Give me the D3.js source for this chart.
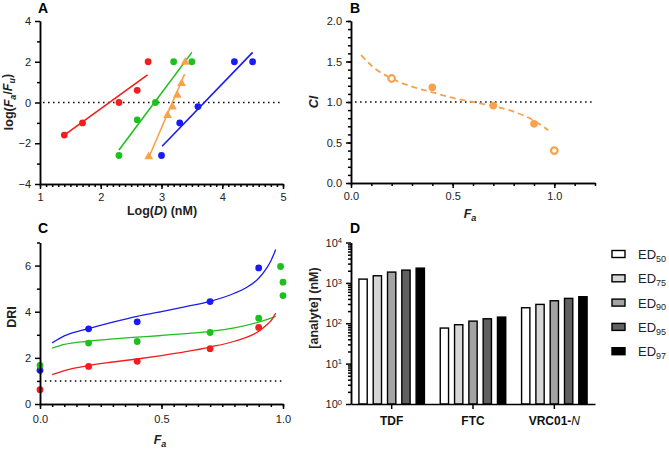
<!DOCTYPE html>
<html lang="en">
<head>
<meta charset="UTF-8">
<title>drug combination panels</title>
<script src="https://cdn.jsdelivr.net/npm/d3@7/dist/d3.min.js"></script>
<style>
body { margin: 0; background: #fff; }
svg text { font-family: "Liberation Sans", Arial, sans-serif; fill: #222; }
.axis path, .axis line { stroke: #000; stroke-width: 1.5; }
.axis text { font-size: 11px; fill: #222; }
</style>
</head>
<body>
<div id="output"></div>
<script>

// ---- panel A : median-effect plot ----
var aRedX = [1.4, 1.7, 2.3, 2.6, 2.78];
var aRedY = [-1.6, -1.0, 0.0, 0.6, 2.0];
var aRedFitX = [1.4, 2.77];
var aRedFitY = [-1.6, 1.36];

var aGreenX = [2.3, 2.6, 2.9, 3.2, 3.5];
var aGreenY = [-2.6, -0.85, 0.0, 2.0, 2.0];
var aGreenFitX = [2.3, 3.5];
var aGreenFitY = [-2.33, 2.46];

var aOrangeX = [2.79, 3.1, 3.18, 3.26, 3.33, 3.39];
var aOrangeY = [-2.66, -0.63, -0.22, 0.36, 0.93, 1.98];
var aOrangeFitX = [2.79, 3.38];
var aOrangeFitY = [-2.7, 1.39];

var aBlueX = [3.0, 3.3, 3.6, 4.2, 4.5];
var aBlueY = [-2.6, -1.0, -0.2, 2.0, 2.0];
var aBlueFitX = [3.01, 4.5];
var aBlueFitY = [-2.15, 2.46];

// ---- panel B : combination index ----
var bFa = [0.2, 0.4, 0.7, 0.9, 1.0];
var bCI = [1.29, 1.18, 0.955, 0.73, 0.40];
var bOpen = [true, false, false, false, true];
var bCurveFa = [0.05, 0.1, 0.2, 0.3, 0.4, 0.5, 0.6, 0.7, 0.8, 0.9, 0.97];
var bCurveCI = [1.58, 1.45, 1.29, 1.19, 1.12, 1.05, 1.0, 0.95, 0.88, 0.77, 0.65];

// ---- panel C : dose reduction index ----
var cFa = [0, 0.2, 0.4, 0.7, 0.9];
var cBlue = [1.46, 3.26, 3.56, 4.44, 5.9];
var cGreen = [1.67, 2.64, 2.71, 3.10, 3.72];
var cRed = [0.62, 1.63, 1.85, 2.40, 3.32];
var cGreenExtraFa = [0.99, 1.0, 1.0];
var cGreenExtra = [5.96, 5.28, 4.70];

var cBlueCurveFa = [0.05, 0.1, 0.2, 0.3, 0.4, 0.5, 0.6, 0.7, 0.8, 0.85, 0.9, 0.93, 0.95, 0.97];
var cBlueCurve = [2.65, 2.95, 3.27, 3.55, 3.8, 4.0, 4.22, 4.45, 4.8, 5.05, 5.45, 5.85, 6.2, 6.7];
var cGreenCurveFa = [0.05, 0.1, 0.2, 0.3, 0.4, 0.5, 0.6, 0.7, 0.8, 0.9, 0.97];
var cGreenCurve = [2.42, 2.58, 2.72, 2.82, 2.9, 2.97, 3.05, 3.15, 3.3, 3.55, 3.8];
var cRedCurveFa = [0.05, 0.1, 0.2, 0.3, 0.4, 0.5, 0.6, 0.7, 0.8, 0.9, 0.93, 0.95, 0.97];
var cRedCurve = [1.27, 1.45, 1.67, 1.82, 1.95, 2.1, 2.27, 2.47, 2.72, 3.15, 3.4, 3.6, 3.94];

// ---- panel D : ED values ----
var drugs = ["TDF", "FTC", "VRC01-N"];
var edLevels = ["50", "75", "90", "95", "97"];
var edTDF = [1240, 1500, 1850, 2070, 2320];
var edFTC = [76, 92, 113, 129, 142];
var edVRC = [242, 293, 361, 413, 454];

var red = "#f21d1d", green = "#1fbf1f", blue = "#1a1af2", orange = "#f8a24b";
var edFills = ["#ffffff", "#d6d6d6", "#a3a3a3", "#606060", "#000000"];

var svg = d3.select("#output").append("svg")
    .attr("width", 669).attr("height", 449);

function zip(xs, ys) {
    return xs.map(function(x, i){ return [x, ys[i]]; });
}

// draws a minor tick axis first, then the major one on top
function drawAxis(g, axisFn, scale, majors, minors, fmt, pad) {
    g.append("g").attr("class", "axis")
        .call(axisFn(scale).tickValues(minors).tickSize(3).tickSizeOuter(0).tickFormat(""));
    var major = axisFn(scale).tickValues(majors).tickSize(5).tickSizeOuter(0).tickPadding(pad || 4);
    if (fmt) major.tickFormat(fmt);
    g.append("g").attr("class", "axis").call(major);
}

function range(a, b, step) {
    var r = [];
    for (var v = a; v <= b + 1e-9; v += step) r.push(+v.toFixed(4));
    return r;
}

function letter(x, y, t) {
    svg.append("text").attr("x", x).attr("y", y).text(t)
        .style("font-size", "14px").style("font-weight", "bold").style("fill", "#000");
}

function dotted(g, x1, x2, y) {
    g.append("line").attr("x1", x1).attr("x2", x2).attr("y1", y).attr("y2", y)
        .attr("stroke", "#000").attr("stroke-width", 1.5).attr("stroke-dasharray", "1.5,3.5");
}

// italic F with subscript
function addFa(t, sub) {
    t.append("tspan").style("font-style", "italic").text("F");
    t.append("tspan").style("font-style", "italic").style("font-size", "0.72em")
        .attr("dy", "0.3em").text(sub);
}

// ================= Panel A =================
(function(){
    var x = d3.scaleLinear().domain([1, 5]).range([40, 283]);
    var y = d3.scaleLinear().domain([-4, 4]).range([184, 21]);
    var g = svg.append("g");

    dotted(g, x(1.05), x(5), y(0));

    var line = d3.line().x(function(d){ return x(d[0]); }).y(function(d){ return y(d[1]); });
    [[aRedFitX, aRedFitY, red], [aGreenFitX, aGreenFitY, green],
     [aOrangeFitX, aOrangeFitY, orange], [aBlueFitX, aBlueFitY, blue]].forEach(function(s){
        g.append("path").datum(zip(s[0], s[1])).attr("d", line)
            .attr("fill", "none").attr("stroke", s[2]).attr("stroke-width", 1.6);
    });

    [[aRedX, aRedY, red], [aGreenX, aGreenY, green], [aBlueX, aBlueY, blue]].forEach(function(s){
        g.selectAll(null).data(zip(s[0], s[1])).enter().append("circle")
            .attr("cx", function(d){ return x(d[0]); })
            .attr("cy", function(d){ return y(d[1]); })
            .attr("r", 3.4).attr("fill", s[2]);
    });
    var tri = d3.symbol().type(d3.symbolTriangle).size(34);
    g.selectAll(null).data(zip(aOrangeX, aOrangeY)).enter().append("path")
        .attr("d", tri)
        .attr("transform", function(d){ return "translate(" + x(d[0]) + "," + y(d[1]) + ")"; })
        .attr("fill", orange);

    drawAxis(g.append("g").attr("transform", "translate(0," + y(-4) + ")"), d3.axisBottom, x,
        [1, 2, 3, 4, 5], range(1, 5, 0.1), d3.format("d"));
    drawAxis(g.append("g").attr("transform", "translate(" + x(1) + ",0)"), d3.axisLeft, y,
        [-4, -2, 0, 2, 4], [-3, -1, 1, 3], d3.format("d"));

    var yt = svg.append("text").attr("transform", "translate(13,102) rotate(-90)")
        .attr("text-anchor", "middle").style("font-size", "12.5px").style("font-weight", "bold");
    yt.append("tspan").text("log(");
    addFa(yt, "a");
    yt.append("tspan").attr("dy", "-0.3em").text("/");
    addFa(yt, "u");
    yt.append("tspan").attr("dy", "-0.3em").text(")");

    var xt = svg.append("text").attr("x", 162).attr("y", 215)
        .attr("text-anchor", "middle").style("font-size", "12.5px").style("font-weight", "bold");
    xt.append("tspan").text("Log(");
    xt.append("tspan").style("font-style", "italic").text("D");
    xt.append("tspan").text(") (nM)");

    letter(38, 13, "A");
})();

// ================= Panel B =================
(function(){
    var x = d3.scaleLinear().domain([0, 1.2]).range([351, 595]);
    var y = d3.scaleLinear().domain([0, 2]).range([183, 21]);
    var g = svg.append("g");

    dotted(g, x(0.02), x(1.2), y(1));

    var line = d3.line().curve(d3.curveMonotoneX)
        .x(function(d){ return x(d[0]); }).y(function(d){ return y(d[1]); });
    g.append("path").datum(zip(bCurveFa, bCurveCI)).attr("d", line)
        .attr("fill", "none").attr("stroke", orange).attr("stroke-width", 1.8)
        .attr("stroke-dasharray", "6,4");

    g.selectAll(null).data(zip(bFa, bCI)).enter().append("circle")
        .attr("cx", function(d){ return x(d[0]); })
        .attr("cy", function(d){ return y(d[1]); })
        .attr("r", function(d, i){ return bOpen[i] ? 3.3 : 3.8; })
        .attr("fill", function(d, i){ return bOpen[i] ? "#fff" : orange; })
        .attr("stroke", orange)
        .attr("stroke-width", function(d, i){ return bOpen[i] ? 2.2 : 0; });

    drawAxis(g.append("g").attr("transform", "translate(0," + y(0) + ")"), d3.axisBottom, x,
        [0, 0.5, 1.0], range(0, 1.2, 0.1), d3.format(".1f"));
    drawAxis(g.append("g").attr("transform", "translate(" + x(0) + ",0)"), d3.axisLeft, y,
        [0, 0.5, 1, 1.5, 2], range(0, 2, 0.1), d3.format(".1f"));

    svg.append("text").attr("transform", "translate(318,102) rotate(-90)")
        .attr("text-anchor", "middle").style("font-size", "12.5px").style("font-weight", "bold")
        .style("font-style", "italic").text("CI");

    var xt = svg.append("text").attr("x", 470).attr("y", 218)
        .attr("text-anchor", "middle").style("font-size", "12.5px").style("font-weight", "bold");
    addFa(xt, "a");

    letter(350, 13, "B");
})();

// ================= Panel C =================
(function(){
    var x = d3.scaleLinear().domain([0, 1]).range([40, 283]);
    var y = d3.scaleLinear().domain([0, 7]).range([404, 242.5]);
    var g = svg.append("g");

    dotted(g, x(0.02), x(1), y(1));

    var line = d3.line().curve(d3.curveMonotoneX)
        .x(function(d){ return x(d[0]); }).y(function(d){ return y(d[1]); });
    [[cBlueCurveFa, cBlueCurve, blue], [cGreenCurveFa, cGreenCurve, green],
     [cRedCurveFa, cRedCurve, red]].forEach(function(s){
        g.append("path").datum(zip(s[0], s[1])).attr("d", line)
            .attr("fill", "none").attr("stroke", s[2]).attr("stroke-width", 1.3);
    });

    [[cFa, cBlue, blue], [cFa, cGreen, green], [cFa, cRed, red],
     [cGreenExtraFa, cGreenExtra, green]].forEach(function(s){
        g.selectAll(null).data(zip(s[0], s[1])).enter().append("circle")
            .attr("cx", function(d){ return x(d[0]); })
            .attr("cy", function(d){ return y(d[1]); })
            .attr("r", 3.4).attr("fill", s[2]);
    });

    drawAxis(g.append("g").attr("transform", "translate(0," + y(0) + ")"), d3.axisBottom, x,
        [0, 0.5, 1.0], range(0, 1, 0.05), d3.format(".1f"), 6);
    drawAxis(g.append("g").attr("transform", "translate(" + x(0) + ",0)"), d3.axisLeft, y,
        [0, 2, 4, 6], [1, 3, 5, 7], d3.format("d"));

    svg.append("text").attr("transform", "translate(16,317) rotate(-90)")
        .attr("text-anchor", "middle").style("font-size", "12.5px").style("font-weight", "bold")
        .text("DRI");

    var xt = svg.append("text").attr("x", 160).attr("y", 444)
        .attr("text-anchor", "middle").style("font-size", "12.5px").style("font-weight", "bold");
    addFa(xt, "a");

    letter(38, 233, "C");
})();

// ================= Panel D =================
(function(){
    var values = [edTDF, edFTC, edVRC];
    var x0 = d3.scaleBand().domain(drugs).range([351, 595]).padding(0);
    var x1 = d3.scaleBand().domain(edLevels).range([-32.75, 32.75]).paddingInner(0.42);
    var y = d3.scaleLog().domain([1, 1e4]).range([404, 242.5]);
    var g = svg.append("g");

    drugs.forEach(function(dr, i){
        var cx = x0(dr) + x0.bandwidth() / 2;
        g.selectAll(null).data(values[i]).enter().append("rect")
            .attr("x", function(d, j){ return cx + x1(edLevels[j]); })
            .attr("y", function(d){ return y(d); })
            .attr("width", x1.bandwidth())
            .attr("height", function(d){ return y(1) - y(d); })
            .attr("fill", function(d, j){ return edFills[j]; })
            .attr("stroke", "#000").attr("stroke-width", 1.4);
    });

    var minors = [];
    [1, 10, 100, 1000].forEach(function(dec){
        for (var k = 2; k <= 9; k++) minors.push(dec * k);
    });
    drawAxis(g.append("g").attr("transform", "translate(351,0)"), d3.axisLeft, y,
        [1, 10, 100, 1000, 10000], minors, function(){ return ""; });

    // log tick labels with superscripts
    [0, 1, 2, 3, 4].forEach(function(p){
        var t = g.append("text").attr("x", 342).attr("y", y(Math.pow(10, p)) + 4)
            .attr("text-anchor", "end").style("font-size", "11px");
        t.append("tspan").text("10");
        t.append("tspan").attr("dy", "-0.45em").style("font-size", "7.5px").text(p);
    });

    var xa = g.append("g").attr("class", "axis").attr("transform", "translate(0,404)")
        .call(d3.axisBottom(x0).tickSize(5).tickSizeOuter(0).tickPadding(5).tickFormat(""));
    xa.selectAll(".tick").append("text").attr("y", 21).attr("text-anchor", "middle")
        .style("font-size", "12px").style("font-weight", "bold").style("fill", "#111")
        .each(function(d){
            var t = d3.select(this);
            if (d === "VRC01-N") {
                t.append("tspan").text("VRC01-");
                t.append("tspan").style("font-style", "italic").style("font-weight", "normal").text("N");
            } else {
                t.text(d);
            }
        });

    svg.append("text").attr("transform", "translate(318,308) rotate(-90)")
        .attr("text-anchor", "middle").style("font-size", "12.5px").style("font-weight", "bold")
        .text("[analyte] (nM)");

    // legend
    var lg = svg.append("g");
    edLevels.forEach(function(lv, i){
        var ly = 254 + i * 24.3;
        lg.append("rect").attr("x", 612).attr("y", ly - 3.5).attr("width", 13).attr("height", 7)
            .attr("fill", edFills[i]).attr("stroke", "#000").attr("stroke-width", 1.4);
        var t = lg.append("text").attr("x", 638).attr("y", ly + 5).style("font-size", "13px");
        t.append("tspan").text("ED");
        t.append("tspan").attr("dy", "0.3em").style("font-size", "9px").text(lv);
    });

    letter(350, 233, "D");
})();

</script>
</body>
</html>
